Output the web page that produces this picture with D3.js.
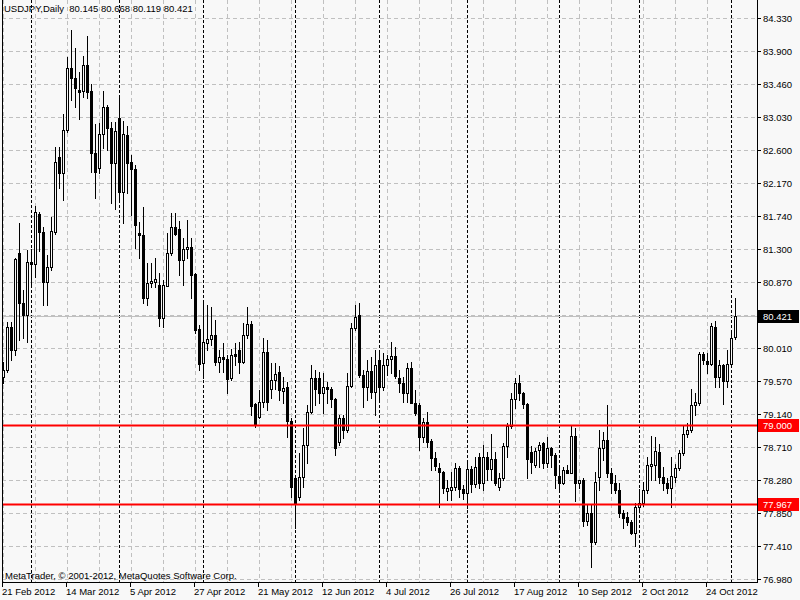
<!DOCTYPE html>
<html><head><meta charset="utf-8">
<script src="https://cdn.jsdelivr.net/npm/d3@7"></script>
<style>
body{margin:0;background:#f8f8f8;}
svg{display:block;}
text{font-family:"Liberation Sans",Arial,sans-serif;font-size:9.5px;fill:#000;}
</style>
</head><body>
<svg id="c" width="800" height="600"></svg>
<script>
const symbolTitle = "USDJPY,Daily";
const firstDay = "2012-02-21";
const tickLabels = ["21 Feb 2012","14 Mar 2012","5 Apr 2012","27 Apr 2012","21 May 2012","12 Jun 2012","4 Jul 2012","26 Jul 2012","17 Aug 2012","10 Sep 2012","2 Oct 2012","24 Oct 2012"];
const priceLabels = ["84.330","83.900","83.460","83.030","82.600","82.170","81.740","81.300","80.870","80.440","80.010","79.570","79.140","78.710","78.280","77.850","77.410","76.980"];
const hLevels = [79.000, 77.967];
const bidPrice = 80.421;

const open = [79.63,79.72,80.28,79.98,81.25,80.60,80.44,81.13,81.11,81.76,81.53,80.87,81.07,81.53,82.51,82.30,82.86,83.68,83.54,83.39,
83.37,83.71,83.37,82.56,82.37,82.81,83.16,82.89,82.43,83.02,82.05,82.80,82.44,82.35,81.51,81.49,80.66,80.86,80.87,80.83,
80.40,80.82,81.25,81.59,81.57,81.16,81.30,81.33,80.98,80.26,79.81,80.07,80.13,80.18,79.82,79.89,79.86,79.61,79.93,79.98,
79.82,80.18,80.32,79.27,79.10,79.30,79.95,79.47,79.59,79.69,79.44,79.50,79.05,78.30,78.05,78.32,78.74,79.17,79.61,79.61,
79.42,79.50,79.47,79.34,78.78,79.09,78.93,79.51,80.27,80.44,79.65,79.50,79.71,79.43,79.85,79.50,79.78,79.86,79.90,79.61,
79.55,79.42,79.74,79.29,79.26,78.84,79.04,78.79,78.57,78.43,78.38,78.13,78.15,78.19,78.43,78.16,78.11,78.42,78.22,78.58,
78.24,78.58,78.42,78.55,78.19,78.30,78.72,78.98,79.34,79.55,79.42,79.27,78.64,78.47,78.67,78.76,78.50,78.70,78.60,78.33,
78.24,78.41,78.37,78.85,78.24,78.28,77.74,77.85,77.47,78.32,78.70,78.80,78.37,78.24,78.15,77.85,77.79,77.73,77.58,77.92,
77.98,78.15,78.46,78.47,78.64,78.32,78.24,78.17,78.32,78.43,78.63,78.88,78.93,79.26,79.29,79.93,79.84,79.80,80.28,79.63,
79.78,79.57,79.80,80.145];
const high = [79.82,80.35,80.35,81.19,81.65,80.77,81.29,81.30,81.87,81.79,81.59,81.23,81.72,82.64,82.64,83.07,83.82,84.17,83.94,83.62,
83.83,84.09,83.47,82.94,82.95,83.37,83.19,82.97,82.97,83.30,82.98,82.92,82.54,82.40,81.66,81.85,81.12,81.12,81.19,80.99,
80.90,81.51,81.78,81.78,81.67,81.45,81.68,81.45,80.99,80.31,80.61,80.57,80.54,80.37,79.98,80.07,79.92,79.99,80.07,80.09,
80.33,80.54,80.36,79.29,79.46,80.14,80.11,79.81,79.81,79.77,79.63,79.56,79.09,78.32,78.63,78.96,79.26,79.78,79.72,79.69,
79.68,79.56,79.50,79.35,79.13,79.13,79.68,80.33,80.57,80.60,79.72,79.85,79.89,79.98,79.95,79.94,79.92,80.09,80.02,79.72,
79.63,79.81,79.82,79.46,79.29,79.09,79.17,78.81,78.64,78.50,78.40,78.28,78.38,78.50,78.46,78.21,78.50,78.46,78.58,78.63,
78.74,78.64,78.88,78.64,78.37,78.76,79.02,79.42,79.61,79.65,79.43,79.29,78.72,78.70,78.78,78.78,78.84,78.71,78.63,78.43,
78.45,78.47,78.98,78.96,78.28,78.30,77.96,77.95,78.38,78.93,78.91,79.26,78.43,78.34,78.24,77.88,77.86,77.75,77.98,78.16,
78.25,78.58,78.85,78.84,78.75,78.45,78.30,78.58,78.49,78.67,78.98,79.02,79.47,79.42,79.95,79.95,79.94,80.33,80.36,79.85,
79.80,79.98,80.20,80.668];
const low = [79.55,79.69,79.85,79.92,80.11,80.14,80.09,80.81,80.94,81.28,80.57,80.57,81.03,81.50,82.10,81.95,82.84,83.26,83.16,83.01,
83.30,83.28,82.31,81.97,82.30,82.63,82.60,81.91,81.83,81.95,81.65,82.04,81.75,81.32,81.19,80.60,80.57,80.81,80.81,80.30,
80.28,80.82,81.23,81.49,80.96,80.83,81.19,80.66,80.20,79.72,79.61,79.98,80.05,79.78,79.69,79.69,79.42,79.59,79.78,79.68,
79.81,80.14,79.13,78.97,79.09,79.23,79.19,79.35,79.47,79.33,79.29,78.84,78.05,77.65,78.02,78.19,78.50,79.16,79.26,79.29,
79.16,79.29,79.23,78.60,78.74,78.83,78.91,79.50,80.24,79.63,79.23,79.33,79.35,79.13,79.33,79.46,79.65,79.68,79.61,79.43,
79.30,79.30,79.29,79.13,78.67,78.77,78.71,78.41,78.41,77.92,78.11,78.02,78.02,78.15,78.05,78.03,77.91,78.12,78.19,78.17,
78.15,78.28,78.28,78.21,78.15,78.28,78.58,78.96,79.22,79.33,79.22,78.30,78.37,78.45,78.45,78.43,78.45,78.45,78.17,78.15,
78.22,78.37,78.37,78.00,78.17,77.67,77.69,77.14,77.44,78.15,78.54,78.32,78.11,78.11,77.79,77.65,77.69,77.57,77.41,77.88,
77.94,78.11,78.28,78.28,78.24,78.15,78.11,77.92,78.25,78.41,78.60,78.84,78.91,79.13,79.26,79.80,79.68,79.78,79.50,79.50,
79.27,79.50,79.76,80.119];
const close = [79.72,80.28,79.98,81.17,80.60,80.44,81.13,81.11,81.79,81.53,80.87,81.07,81.54,82.44,82.30,82.86,83.68,83.54,83.41,83.36,
83.71,83.36,82.56,82.31,82.81,83.16,82.89,82.43,82.85,82.05,82.81,82.43,82.35,81.62,81.49,80.66,80.86,80.88,80.91,80.40,
80.83,81.25,81.59,81.50,81.16,81.30,81.33,80.96,80.24,79.80,80.09,80.13,80.18,79.82,79.89,79.86,79.60,79.92,79.90,79.82,
80.18,80.32,79.25,79.01,79.30,79.95,79.30,79.59,79.67,79.46,79.48,79.05,78.19,77.98,78.32,78.74,79.17,79.61,79.47,79.42,
79.50,79.47,79.34,78.70,79.09,78.93,79.51,80.27,80.41,79.65,79.50,79.71,79.43,79.78,79.50,79.78,79.86,79.90,79.64,79.55,
79.42,79.74,79.29,79.16,78.84,79.04,78.78,78.57,78.46,78.38,78.17,78.17,78.19,78.43,78.16,78.11,78.42,78.22,78.45,78.24,
78.58,78.42,78.55,78.24,78.30,78.72,78.98,79.34,79.55,79.42,79.27,78.55,78.51,78.66,78.74,78.50,78.70,78.60,78.34,78.24,
78.41,78.37,78.85,78.24,78.28,77.74,77.85,77.47,78.25,78.70,78.80,78.37,78.24,78.15,77.85,77.78,77.73,77.58,77.92,77.98,
78.15,78.47,78.49,78.66,78.32,78.24,78.17,78.33,78.43,78.63,78.88,78.93,79.26,79.30,79.93,79.85,79.80,80.30,79.63,79.78,
79.57,79.80,80.14,80.421];

const BG = "#f8f8f8";
const n = open.length;
const svg = d3.select("#c");
const px = v => Math.round(v) + 0.5;

// trading days (weekdays) starting from the first bar
const days = [];
{ let d = new Date(firstDay + "T00:00:00Z");
  while (days.length < n) { const w = d.getUTCDay(); if (w !== 0 && w !== 6) days.push(new Date(d)); d.setUTCDate(d.getUTCDate() + 1); } }
const monthStarts = d3.range(1, n).filter(i => days[i].getUTCMonth() !== days[i-1].getUTCMonth());

const x = d3.scaleLinear().domain([0, n - 1]).range([3, 3 + 4 * (n - 1)]);
const y = d3.scaleLinear().domain([+priceLabels[priceLabels.length-1], +priceLabels[0]]).range([579, 18]);
const yTicks = priceLabels.map((s, k) => ({s, yy: 18 + 33 * k}));

const L = 2, R = 757, B = 582;

svg.append("rect").attr("width", 800).attr("height", 600).attr("fill", BG);

// horizontal grid
svg.append("g").selectAll("line").data(yTicks).join("line")
  .attr("x1", L).attr("x2", R).attr("y1", d => d.yy + 0.5).attr("y2", d => d.yy + 0.5)
  .attr("stroke", "#c0c0c0").attr("stroke-dasharray", "4,3");
// vertical grid every 8 bars
svg.append("g").selectAll("line").data(d3.range(0, n, 8)).join("line")
  .attr("x1", i => px(x(i))).attr("x2", i => px(x(i))).attr("y1", 0).attr("y2", B)
  .attr("stroke", "#c0c0c0").attr("stroke-dasharray", "4,3");
// month separators
svg.append("g").selectAll("line").data(monthStarts).join("line")
  .attr("x1", i => px(x(i))).attr("x2", i => px(x(i))).attr("y1", 0).attr("y2", B)
  .attr("stroke", "#000").attr("stroke-dasharray", "3,2");
// bid line
svg.append("line").attr("x1", L).attr("x2", R).attr("y1", px(y(bidPrice))).attr("y2", px(y(bidPrice)))
  .attr("stroke", "#c0c0c0");

// candles
const cg = svg.append("g");
const idx = d3.range(n);
cg.selectAll("line").data(idx).join("line")
  .attr("x1", i => px(x(i))).attr("x2", i => px(x(i)))
  .attr("y1", i => Math.round(y(high[i]))).attr("y2", i => Math.round(y(low[i])) + 1)
  .attr("stroke", "#000");
cg.selectAll("rect").data(idx).join("rect")
  .attr("x", i => Math.round(x(i)) - 1 + 0.5).attr("width", 2)
  .attr("y", i => Math.round(y(Math.max(open[i], close[i]))) + 0.5)
  .attr("height", i => Math.max(1, Math.round(y(Math.min(open[i], close[i]))) - Math.round(y(Math.max(open[i], close[i])))))
  .attr("fill", i => close[i] >= open[i] ? BG : "#000")
  .attr("stroke", "#000");

// horizontal level lines
svg.append("g").selectAll("line").data(hLevels).join("line")
  .attr("x1", L).attr("x2", R).attr("y1", d => Math.round(y(d)) + 0.5).attr("y2", d => Math.round(y(d)) + 0.5)
  .attr("stroke", "#ff0000").attr("stroke-width", 2);

// frame / axes
svg.append("line").attr("x1", L + 0.5).attr("x2", L + 0.5).attr("y1", 0).attr("y2", B).attr("stroke", "#000");
svg.append("line").attr("x1", R + 0.5).attr("x2", R + 0.5).attr("y1", 0).attr("y2", B + 1).attr("stroke", "#000");
svg.append("line").attr("x1", L).attr("x2", R + 1).attr("y1", B + 0.5).attr("y2", B + 0.5).attr("stroke", "#000");

// right axis ticks & labels
const ra = svg.append("g");
ra.selectAll("line").data(yTicks).join("line")
  .attr("x1", R).attr("x2", R + 4).attr("y1", d => d.yy + 0.5).attr("y2", d => d.yy + 0.5).attr("stroke", "#000");
ra.selectAll("text").data(yTicks).join("text")
  .attr("x", R + 6).attr("y", d => d.yy + 3.5).text(d => d.s);

function priceTag(v, bg, fg, txt) {
  const yy = Math.round(y(v));
  svg.append("rect").attr("x", R + 1).attr("y", yy - 6).attr("width", 41).attr("height", 13).attr("fill", bg);
  svg.append("text").attr("x", R + 6).attr("y", yy + 3.5).style("fill", fg).text(txt);
}
priceTag(bidPrice, "#000", "#fff", bidPrice.toFixed(3));
hLevels.forEach(v => priceTag(v, "#ff0000", "#fff", v.toFixed(3)));

// bottom axis ticks & labels
const ba = svg.append("g");
ba.selectAll("line").data(tickLabels).join("line")
  .attr("x1", (d, k) => px(x(16 * k) - 1)).attr("x2", (d, k) => px(x(16 * k) - 1))
  .attr("y1", B).attr("y2", B + 5).attr("stroke", "#000");
ba.selectAll("text").data(tickLabels).join("text")
  .attr("x", (d, k) => x(16 * k) - 1).attr("y", 595).text(d => d);

// header & footer
const last = n - 1;
svg.append("text").attr("x", 4).attr("y", 12).attr("xml:space", "preserve")
  .text(`${symbolTitle}  ${open[last].toFixed(3)} ${high[last].toFixed(3)} ${low[last].toFixed(3)} ${close[last].toFixed(3)}`);
svg.append("text").attr("x", 5).attr("y", 579).text("MetaTrader, \u00A9 2001-2012, MetaQuotes Software Corp.");
</script>
</body></html>
